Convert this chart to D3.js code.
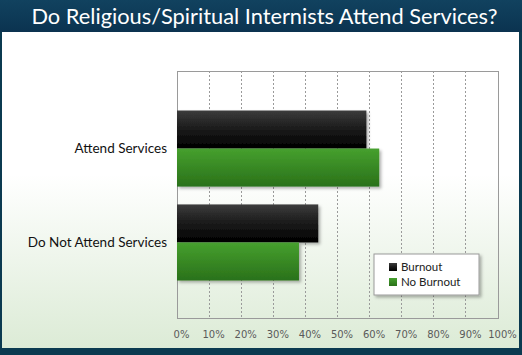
<!DOCTYPE html>
<html><head><meta charset="utf-8">
<script src="https://cdn.jsdelivr.net/npm/d3@7"></script>
<style>body{margin:0;padding:0;overflow:hidden;}svg{display:block;}</style>
</head><body>
<svg id="chart" width="522" height="355"></svg>
<script>
const title = "Do Religious/Spiritual Internists Attend Services?";
const categories = ["Attend Services", "Do Not Attend Services"];
const seriesNames = ["Burnout", "No Burnout"];
const burnout = [59, 44];
const noBurnout = [63, 38];
const tickValues = [0,10,20,30,40,50,60,70,80,90,100];

const W = 522, H = 355;
const svg = d3.select("#chart");
const defs = svg.append("defs");

function lin(id, stops, vertical=true){
  const g = defs.append("linearGradient").attr("id", id)
    .attr("x1",0).attr("y1",0).attr("x2",vertical?0:1).attr("y2",vertical?1:0);
  stops.forEach(([o,c])=>g.append("stop").attr("offset",o).attr("stop-color",c));
}
lin("bgGrad", [[0,"#ffffff"],[0.45,"#ffffff"],[1,"#dcebd6"]]);
lin("titleGrad", [[0,"#11425f"],[1,"#0b3350"]]);
lin("gBlack", [[0,"#3c3c3c"],[0.5,"#1a1a1a"],[1,"#000000"]]);
lin("gGreen", [[0,"#46a02e"],[1,"#2a711a"]]);
const f = defs.append("filter").attr("id","shadow").attr("x","-10%").attr("y","-10%").attr("width","130%").attr("height","140%");
f.append("feDropShadow").attr("dx",2).attr("dy",2).attr("stdDeviation",1.8).attr("flood-color","#000").attr("flood-opacity",0.3);

// frame
svg.append("rect").attr("width",W).attr("height",H).attr("fill","#0b3a50");
svg.append("rect").attr("x",2).attr("y",32).attr("width",517).attr("height",316).attr("fill","url(#bgGrad)");
svg.append("rect").attr("x",0).attr("y",0).attr("width",W).attr("height",32).attr("fill","url(#titleGrad)");
svg.append("text").attr("x",264.5).attr("y",24).attr("text-anchor","middle")
  .attr("fill","#ffffff").style("font-family","Lato, 'Open Sans', sans-serif").style("font-size","21.8px")
  .text(title);

const x = d3.scaleLinear().domain([0,100]).range([177, 498]);
const y = d3.scaleBand().domain(categories).range([72, 319]).paddingInner(0.19).paddingOuter(0.41);
const ys = d3.scaleBand().domain(seriesNames).range([0, y.bandwidth()]);

const plot = svg.append("g");
// grid
plot.append("g").selectAll("line").data(tickValues.slice(1,-1)).join("line")
  .attr("x1",d=>x(d)).attr("x2",d=>x(d)).attr("y1",71).attr("y2",318)
  .attr("stroke","#9a9a9a").attr("stroke-width",1).attr("stroke-dasharray","2,2")
  .attr("shape-rendering","crispEdges");
plot.append("rect").attr("x",x(0)).attr("y",71).attr("width",x(100)-x(0)).attr("height",247)
  .attr("fill","none").attr("stroke","#9a9a9a").attr("stroke-width",1).attr("shape-rendering","crispEdges");

// axis labels
const xAxis = d3.axisBottom(x).tickValues(tickValues).tickFormat(d=>d+"%").tickSize(0).tickPadding(0);
const ax = svg.append("g").attr("transform","translate(4,331)").call(xAxis);
ax.select(".domain").remove();
ax.selectAll("text").attr("fill","#5a5a5a").style("font-family","'DejaVu Sans', sans-serif").style("font-size","10px").attr("dy","0.71em");

const yAxis = d3.axisLeft(y).tickSize(0).tickPadding(10);
const ay = svg.append("g").attr("transform",`translate(${x(0)},0)`).call(yAxis);
ay.select(".domain").remove();
ay.selectAll("text").attr("fill","#111").style("font-family","Lato, 'Open Sans', sans-serif").style("font-size","13.5px");

// bars
const data = [];
categories.forEach((c,i)=>{
  data.push({cat:c, s:"Burnout", v:burnout[i]});
  data.push({cat:c, s:"No Burnout", v:noBurnout[i]});
});
const fills = {"Burnout":"url(#gBlack)","No Burnout":"url(#gGreen)"};
plot.append("g").selectAll("rect").data(data).join("rect")
  .attr("x",x(0)).attr("y",d=>y(d.cat)+ys(d.s))
  .attr("width",d=>x(d.v)-x(0)).attr("height",ys.bandwidth())
  .attr("fill",d=>fills[d.s]).attr("filter","url(#shadow)");

// legend
const lg = svg.append("g").attr("transform","translate(374,254)");
lg.append("rect").attr("width",105).attr("height",41).attr("fill","#fff")
  .attr("stroke","#9a9a9a").attr("filter","url(#shadow)");
seriesNames.forEach((s,i)=>{
  lg.append("rect").attr("x",15).attr("y",9+i*15).attr("width",8).attr("height",8).attr("fill",fills[s]);
  lg.append("text").attr("x",27).attr("y",17+i*15).attr("fill","#222")
    .style("font-family","Lato, 'Open Sans', sans-serif").style("font-size","11.5px").text(s);
});
</script>
</body></html>
